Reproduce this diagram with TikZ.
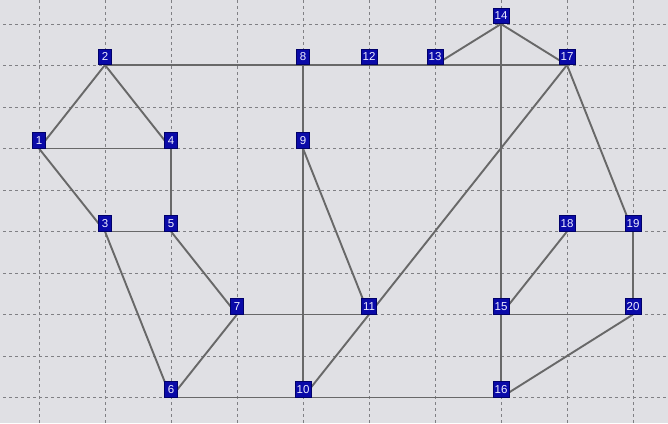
\documentclass[tikz,border=0pt]{standalone}
\usepackage{fontspec}
\setmainfont{Liberation Sans}
\definecolor{bg}{HTML}{E0E0E4}
\definecolor{gridc}{HTML}{808084}
\definecolor{edgec}{HTML}{686868}
\definecolor{boxc}{HTML}{0A0AA8}
\definecolor{boxline}{HTML}{00006A}
\definecolor{txtc}{HTML}{EEEEFF}
\begin{document}
\begin{tikzpicture}[x=1pt,y=-1pt,
  gridline/.style={gridc,line width=0.8pt,dash pattern=on 3pt off 3pt},
  edge/.style={edgec,line width=1.9pt},
  vbox/.style={fill=boxc,draw=boxline,line width=0.6pt,text=txtc,
    font=\fontsize{11.5}{11.5}\selectfont,inner xsep=1.5pt,inner ysep=0pt,
    minimum width=13pt,minimum height=15.5pt,anchor=south}]
\fill[bg] (0,0) rectangle (668,423);
\useasboundingbox (0,0) rectangle (668,423);
% grid
\foreach \i in {0,...,9} {\draw[gridline] ({39+66*\i},0) -- ({39+66*\i},423);}
\foreach \j in {0,...,9} {\draw[gridline] (3,{24+41.5*\j}) -- (668,{24+41.5*\j});}
% grid points
\coordinate (p1) at (39,148.5);
\coordinate (p2) at (105,65);
\coordinate (p3) at (105,231.5);
\coordinate (p4) at (171,148.5);
\coordinate (p5) at (171,231.5);
\coordinate (p6) at (171,397.5);
\coordinate (p7) at (237,314.5);
\coordinate (p8) at (303,65);
\coordinate (p9) at (303,148.5);
\coordinate (p10) at (303,397.5);
\coordinate (p11) at (369,314.5);
\coordinate (p12) at (369,65);
\coordinate (p13) at (435,65);
\coordinate (p14) at (501,24);
\coordinate (p15) at (501,314.5);
\coordinate (p16) at (501,397.5);
\coordinate (p17) at (567,65);
\coordinate (p18) at (567,231.5);
\coordinate (p19) at (633,231.5);
\coordinate (p20) at (633,314.5);
% edges
\foreach \a/\b in {1/2,2/4,1/4,1/3,4/5,3/5,3/6,5/7,6/7,6/10,10/16,2/8,8/12,12/13,13/17,13/14,14/17,14/15,15/16,8/9,9/10,9/11,7/11,11/10,11/17,17/19,18/19,19/20,15/18,15/20,16/20}
  {\draw[edge] (p\a) -- (p\b);}
% nodes
\foreach \k in {1,...,20} {\node[vbox] (n\k) at (p\k) {\k};}
\end{tikzpicture}
\end{document}
